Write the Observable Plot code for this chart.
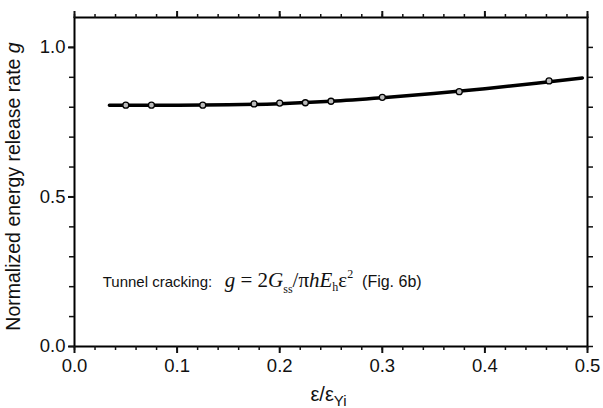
<!DOCTYPE html>
<html><head><meta charset="utf-8">
<script src="https://cdn.jsdelivr.net/npm/d3@7"></script>
<script src="https://cdn.jsdelivr.net/npm/@observablehq/plot@0.6"></script>
<style>
body{margin:0;background:#fff}
#chart svg{font-family:"Liberation Sans",Arial,sans-serif;background:#fff;overflow:visible}
</style>
</head><body><div id="chart"></div>
<script>
// data
const pointX = [0.05, 0.075, 0.125, 0.175, 0.2, 0.225, 0.25, 0.3, 0.375, 0.4625];
const pointY = [0.807, 0.807, 0.807, 0.811, 0.814, 0.815, 0.820, 0.833, 0.852, 0.888];
const curveX = [0.034, 0.05, 0.1, 0.15, 0.2, 0.25, 0.3, 0.35, 0.4, 0.45, 0.495];
const curveY = [0.807, 0.807, 0.807, 0.808, 0.812, 0.820, 0.832, 0.846, 0.862, 0.880, 0.898];
const xMajor = [0, 0.1, 0.2, 0.3, 0.4, 0.5];
const xMinor = [0,0.02,0.04,0.06,0.08,0.1,0.12,0.14,0.16,0.18,0.2,0.22,0.24,0.26,0.28,0.3,0.32,0.34,0.36,0.38,0.4,0.42,0.44,0.46,0.48,0.5];
const yMajor = [0, 0.5, 1.0];
const yMinor = [0,0.1,0.2,0.3,0.4,0.5,0.6,0.7,0.8,0.9,1.0];
const annotationPos = [0.028, 0.197];

const points = pointX.map((x, i) => ({x, y: pointY[i]}));
const curve = curveX.map((x, i) => ({x, y: curveY[i]}));

const fmt = d => d.toFixed(1);
const plot = Plot.plot({
  width: 603, height: 408,
  marginLeft: 74, marginRight: 16, marginTop: 17, marginBottom: 62,
  style: {fontSize: "18.5px", color: "#111"},
  x: {domain: [0, 0.5], label: null},
  y: {domain: [0, 1.1], label: null},
  marks: [
    Plot.frame({stroke: "#000", strokeWidth: 2}),
    Plot.axisX(xMajor, {anchor: "bottom", tickSize: 7, tickPadding: 5, tickFormat: fmt, strokeWidth: 2, label: null}),
    Plot.axisX(xMinor, {anchor: "bottom", tickSize: 4, text: null, strokeWidth: 1.5, label: null}),
    Plot.axisX(xMajor, {anchor: "top", tickSize: 7, text: null, strokeWidth: 2, label: null}),
    Plot.axisX(xMinor, {anchor: "top", tickSize: 4, text: null, strokeWidth: 1.5, label: null}),
    Plot.axisY(yMajor, {anchor: "left", tickSize: 6, tickPadding: 3, tickFormat: fmt, strokeWidth: 2, label: null}),
    Plot.axisY(yMinor, {anchor: "left", tickSize: 5, text: null, strokeWidth: 1.5, label: null}),
    Plot.axisY(yMinor, {anchor: "right", tickSize: 5, text: null, strokeWidth: 1.5, label: null}),
    Plot.line(curve, {x: "x", y: "y", curve: "monotone-x", stroke: "#000", strokeWidth: 3.5}),
    Plot.dot(points, {x: "x", y: "y", r: 3, stroke: "#000", strokeWidth: 1.3, fill: "#bbb"})
  ]
});
document.getElementById("chart").appendChild(plot);

const svg = d3.select(plot);
const sx = plot.scale("x"), sy = plot.scale("y");
const [x0, x1] = sx.range, [y0, y1] = sy.range;

// y-axis label
const yl = svg.append("text")
  .attr("transform", `translate(15,${(y0 + y1) / 2 + 5}) rotate(-90)`)
  .attr("text-anchor", "middle").attr("dominant-baseline", "middle")
  .style("font-size", "19.5px").attr("fill", "#111");
yl.append("tspan").text("Normalized energy release rate ");
yl.append("tspan").attr("font-style", "italic").text("g");

// x-axis label
const xl = svg.append("text")
  .attr("x", (x0 + x1) / 2 - 2).attr("y", y0 + 55)
  .attr("text-anchor", "middle")
  .style("font-size", "20px").attr("fill", "#111");
xl.append("tspan").text("ε/ε");
xl.append("tspan").attr("dy", 5).style("font-size", "15px").text("Yi");

// annotation
const an = svg.append("text")
  .attr("x", sx.apply(annotationPos[0])).attr("y", sy.apply(annotationPos[1]))
  .attr("text-anchor", "start")
  .attr("fill", "#111");
an.append("tspan").style("font-size", "15px").text("Tunnel cracking:\u00a0\u00a0\u00a0");
const serif = '"Liberation Serif","Times New Roman",serif';
const t = (s, o = {}) => {
  const e = an.append("tspan").style("font-family", serif).style("font-size", o.size || "21px").text(s);
  if (o.italic) e.attr("font-style", "italic");
  if (o.dy) e.attr("dy", o.dy);
  return e;
};
t("g", {italic: true});
t(" = 2");
t("G", {italic: true});
t("ss", {size: "12px", dy: 6});
t("/π", {dy: -6});
t("hE", {italic: true});
t("h", {size: "12px", dy: 4});
t("ε", {dy: -4});
t("2", {size: "12px", dy: -9});
an.append("tspan").attr("dy", 9).style("font-size", "16px").text("\u00a0\u00a0(Fig. 6b)");
</script>
</body></html>
